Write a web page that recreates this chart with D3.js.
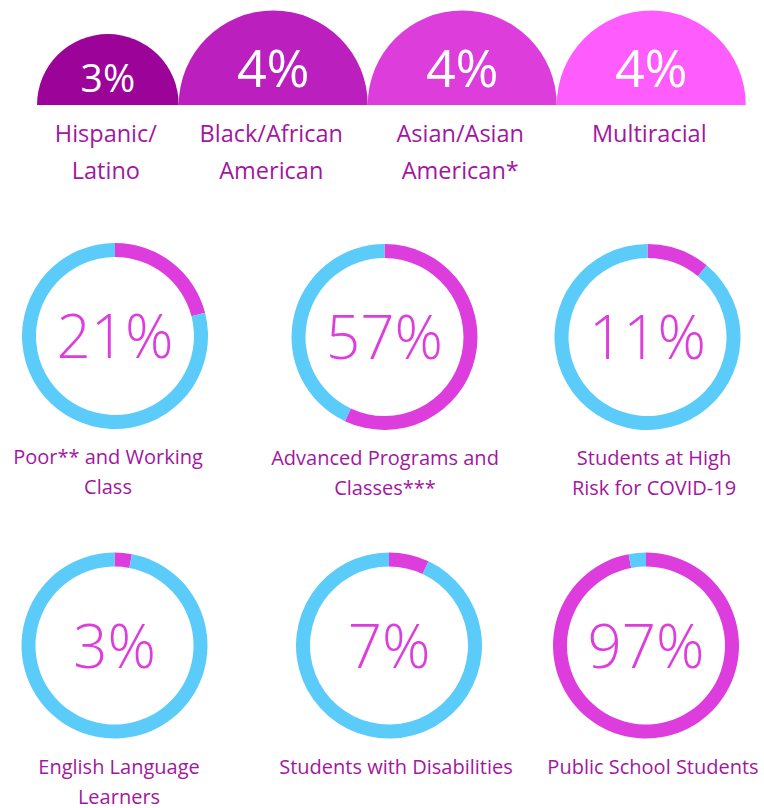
<!DOCTYPE html>
<html lang="en">
<head>
  <meta charset="utf-8">
  <title>Student demographics</title>
  <script src="https://d3js.org/d3.v7.min.js"></script>
  <style>
    body {
      margin: 0;
      background: #fff;
    }
    svg {
      display: block;
      font-family: "Open Sans", sans-serif;
    }
  </style>
</head>
<body>
  <svg id="chart" width="764" height="808"></svg>

  <script>
    // top row: race / ethnicity shares
    const raceLabels = [["Hispanic/", "Latino"], ["Black/African", "American"], ["Asian/Asian", "American*"], ["Multiracial"]];
    const raceValues = [3, 4, 4, 4];
    const raceColors = ["#9c0399", "#bb1fbd", "#dc3ddb", "#ff5cfe"];

    // donut indicators
    const donutLabels = [
      ["Poor** and Working", "Class"],
      ["Advanced Programs and", "Classes***"],
      ["Students at High", "Risk for COVID-19"],
      ["English Language", "Learners"],
      ["Students with Disabilities"],
      ["Public School Students"]
    ];
    const donutValues = [21, 57, 11, 3, 7, 97];

    const magenta = "#dd3ddd";
    const blue = "#5bccfa";
    const labelColor = "#a3169f";

    const svg = d3.select("#chart");

    // ---- semicircles, sized by value ----
    const baseY = 105;
    const rScale = d3.scaleLinear().domain([0, 4]).range([0, 94.5]);
    const fontScale = d3.scaleLinear().domain([0, 4]).range([0, 52]);

    // place them edge to edge from the left
    let edge = 37;
    const semis = raceValues.map((v, i) => {
      const r = rScale(v);
      const cx = edge + r;
      edge += 2 * r;
      return { v, r, cx, label: raceLabels[i], color: raceColors[i] };
    });

    const half = d3.arc()
        .innerRadius(0)
        .startAngle(-Math.PI / 2)
        .endAngle(Math.PI / 2);

    const semi = svg.append("g")
      .selectAll("g")
      .data(semis)
      .join("g")
        .attr("transform", d => `translate(${d.cx},${baseY})`);

    semi.append("path")
        .attr("fill", d => d.color)
        .attr("d", d => half.outerRadius(d.r)());

    semi.append("text")
        .attr("text-anchor", "middle")
        .attr("y", d => -d.r * 0.19)
        .attr("fill", "#fff")
        .attr("font-size", d => fontScale(d.v))
        .text(d => d.v + "%");

    semi.append("text")
        .attr("text-anchor", "middle")
        .attr("fill", labelColor)
        .attr("font-size", 23.5)
      .selectAll("tspan")
      .data(d => d.label)
      .join("tspan")
        .attr("x", -2)
        .attr("y", (d, i) => 37 + i * 36.5)
        .text(d => d);

    // ---- donuts ----
    const cells = [
      { cx: 115, cy: 336, lx: 108 },
      { cx: 384.5, cy: 337, lx: 385 },
      { cx: 647.5, cy: 337, lx: 654 },
      { cx: 114.5, cy: 645.5, lx: 119 },
      { cx: 389, cy: 645.5, lx: 396 },
      { cx: 646, cy: 645.5, lx: 653 }
    ];

    const pie = d3.pie().sort(null).value(d => d);
    const ring = d3.arc().innerRadius(79).outerRadius(93);

    const donut = svg.append("g")
      .selectAll("g")
      .data(donutValues.map((v, i) => ({ v, label: donutLabels[i], ...cells[i] })))
      .join("g")
        .attr("transform", d => `translate(${d.cx},${d.cy})`);

    donut.selectAll("path")
      .data(d => pie([d.v, 100 - d.v]))
      .join("path")
        .attr("fill", (d, i) => i === 0 ? magenta : blue)
        .attr("d", ring);

    donut.append("text")
        .attr("text-anchor", "middle")
        .attr("y", 22)
        .attr("fill", magenta)
        .attr("font-size", 60)
        .attr("font-weight", 300)
        .text(d => d.v + "%");

    donut.append("text")
        .attr("text-anchor", "middle")
        .attr("fill", labelColor)
        .attr("font-size", 20)
      .selectAll("tspan")
      .data(d => d.label.map(t => ({ t, dx: d.lx - d.cx })))
      .join("tspan")
        .attr("x", d => d.dx)
        .attr("y", (d, i) => 128 + i * 30)
        .text(d => d.t);
  </script>
</body>
</html>
